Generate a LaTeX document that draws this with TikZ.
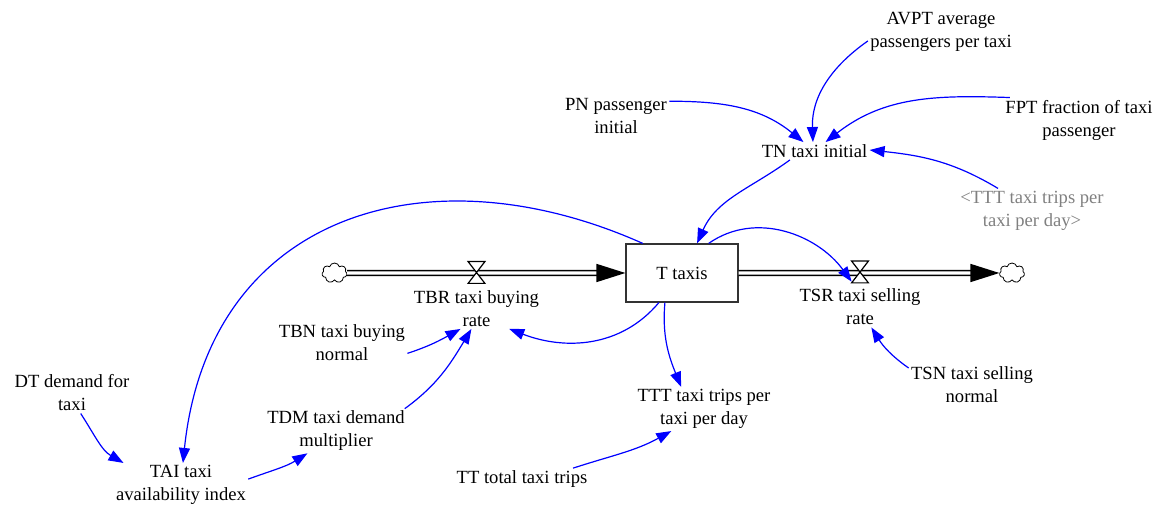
\documentclass[tikz,border=0pt]{standalone}
\usepackage{fontspec}
\setmainfont{Liberation Serif}
\newfontfamily\vensimfont{Liberation Serif}
\usetikzlibrary{arrows.meta,shapes.symbols}

\begin{document}
\begin{tikzpicture}[x=0.5pt,y=0.5pt,
	var/.style={align=center,inner sep=1pt,font=\vensimfont\fontsize{9.3}{11.5}\selectfont},
	shadow/.style={var,text=gray},
	stock/.style={var,draw=black!80,line width=0.6pt,minimum width=56pt,minimum height=29pt},
	link/.style={blue,line width=0.6pt,-{Triangle[length=7.5pt,width=5.5pt]}},
	pipe/.style={line width=0.8pt,double=white,double distance=1.6pt,-{Triangle[length=14.5pt,width=9pt]}},
	source/.style={cloud,cloud puffs=7,aspect=1.25,draw,line width=0.4pt,minimum width=12.5pt,minimum height=10pt,inner sep=0pt},
	valve/.style={minimum width=8pt,minimum height=10.5pt,inner sep=0pt}]
	
	\useasboundingbox (0,0) rectangle (1170,507);
	
	\node[stock] (taxis) at (682,234) {T taxis};
	\node[source] (cloudL) at (334.5,234) {};
	\node[source] (cloudR) at (1012,234) {};
	\node[valve] (tbrv) at (476.5,234.5) {};
	\node[valve] (tsrv) at (860,235) {};
	
	\node[var] (tbr) at (476.5,198.5) {TBR taxi buying\\rate};
	\node[var] (tsr) at (860,200) {TSR taxi selling\\rate};
	\node[var] (pn) at (616,390.5) {PN passenger\\initial};
	\node[var] (avpt) at (941,475) {AVPT average\\passengers per taxi};
	\node[var] (fpt) at (1079,387) {FPT fraction of taxi\\passenger};
	\node[var] (tn) at (814.5,356) {TN taxi initial};
	\node[shadow] (ttts) at (1032,296.5) {<TTT taxi trips per\\taxi per day>};
	\node[var] (tbn) at (342,164) {TBN taxi buying\\normal};
	\node[var] (tsn) at (972,122) {TSN taxi selling\\normal};
	\node[var] (ttt) at (704,98) {TTT taxi trips per\\taxi per day};
	\node[var] (dt) at (72,114) {DT demand for\\taxi};
	\node[var] (tdm) at (336,76) {TDM taxi demand\\multiplier};
	\node[var] (tai) at (181,22) {TAI taxi\\availability index};
	\node[var] (tt) at (522,28) {TT total taxi trips};
	
	\draw[pipe] (cloudL) -- (taxis);
	\draw[pipe] (taxis) -- (cloudR);
	\filldraw[fill=white,line width=0.6pt] (tbrv.north west) -- (tbrv.north east) -- (tbrv.south west) -- (tbrv.south east) -- cycle;
	\filldraw[fill=white,line width=0.6pt] (tsrv.north west) -- (tsrv.north east) -- (tsrv.south west) -- (tsrv.south east) -- cycle;
	
	\draw[link] (pn.16) to[out=0,in=141] (tn.141);
	\draw[link] (avpt.187) to[out=215,in=92] (tn.100);
	\draw[link] (fpt.162) to[out=178,in=38] (tn.39);
	\draw[link] (ttts.147) to[out=149,in=354] (tn.1);
	\draw[link] (tn.200) to[out=216,in=66] (taxis.63);
	\draw[link] (taxis.48) to[out=35,in=126] (tsrv.229);
	\draw[link] (taxis.232) to[out=230,in=339] (tbr.328);
	\draw[link] (taxis.240) to[out=265,in=112] (ttt.136);
	\draw[link] (taxis.143) .. controls +(-215,96) and +(26,249) .. (tai.85);
	\draw[link] (tbn.351) to[out=18,in=209] (tbr.232);
	\draw[link] (tdm.18) to[out=36,in=239] (tbr.256);
	\draw[link] (tsn.165) to[out=145,in=302] (tsr.299);
	\draw[link] (dt.293) to[out=303,in=150] (tai.159);
	\draw[link] (tai.5) to[out=20,in=212] (tdm.218);
	\draw[link] (tt.12) to[out=18,in=209] (ttt.214);
	
\end{tikzpicture}
\end{document}
